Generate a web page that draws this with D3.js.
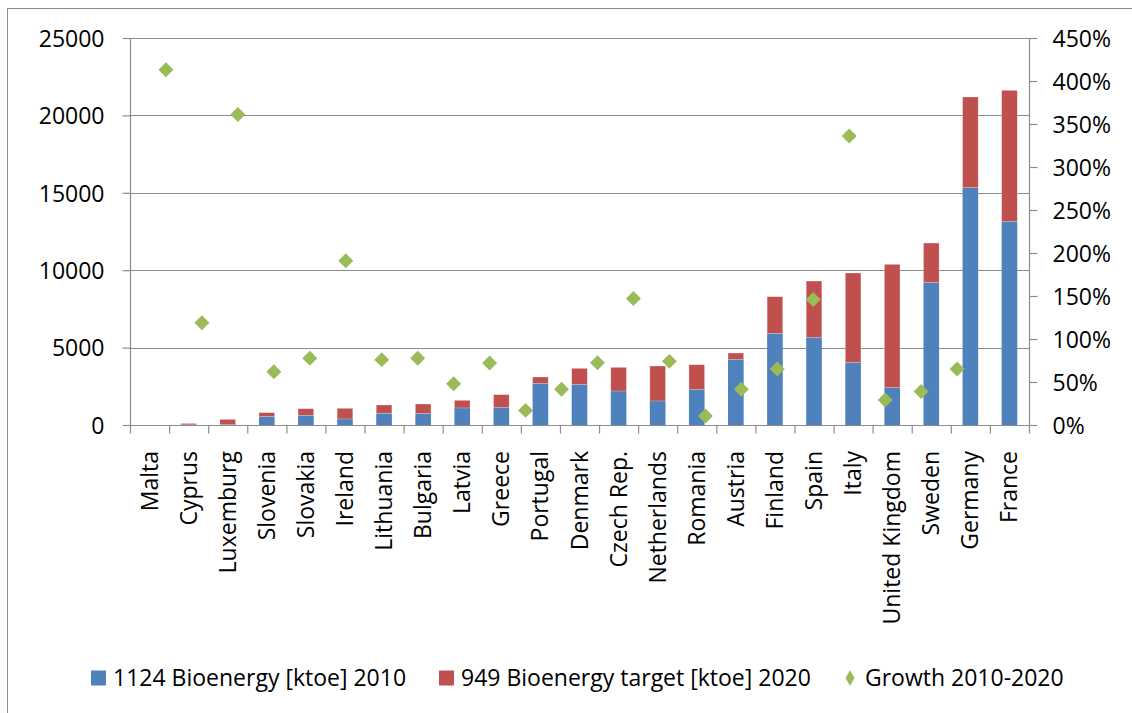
<!DOCTYPE html>
<html>
<head>
<meta charset="utf-8">
<script src="https://cdn.jsdelivr.net/npm/d3@7"></script>
<style>
    body { margin: 0; background: #fff; }
    text { font-family: "Open Sans", sans-serif; fill: #000; }
</style>
</head>
<body>
<div id="chart"></div>
<script>
const countries = ['Malta', 'Cyprus', 'Luxemburg', 'Slovenia', 'Slovakia', 'Ireland', 'Lithuania', 'Bulgaria',
    'Latvia', 'Greece', 'Portugal', 'Denmark', 'Czech Rep.', 'Netherlands', 'Romania', 'Austria', 'Finland',
    'Spain', 'Italy', 'United Kingdom', 'Sweden', 'Germany', 'France'];
const bio2010 = [0, 10, 20, 540, 625, 390, 755, 755, 1100, 1145, 2695, 2630, 2195, 1550, 2305, 4245, 5920,
    5665, 4025, 2410, 9195, 15330, 13160];
const target2020 = [0, 90, 345, 260, 430, 690, 540, 600, 495, 815, 405, 1030, 1530, 2260, 1590, 405, 2370,
    3635, 5795, 7970, 2560, 5860, 8460];
const growth = [4.13, 1.19, 3.61, 0.62, 0.775, 1.91, 0.76, 0.775, 0.48, 0.72, 0.17, 0.415, 0.725, 1.47, 0.74,
    0.105, 0.415, 0.65, 1.46, 3.36, 0.29, 0.39, 0.65];
const leftTicks = [0, 5000, 10000, 15000, 20000, 25000];
const rightTicks = [0, 0.5, 1, 1.5, 2, 2.5, 3, 3.5, 4, 4.5];
const seriesNames = ['1124 Bioenergy [ktoe] 2010', '949 Bioenergy target [ktoe] 2020', 'Growth 2010-2020'];

const BLUE = '#4f81bd', RED = '#c0504d', GREEN = '#9bbb59', GRID = '#8c8c8c';

const [width, height] = [1132, 713];
const plot = { left: 130, right: 1029, top: 38, bottom: 425 };

const svg = d3.select('#chart').append('svg')
    .attr('width', width)
    .attr('height', height);

// outer chart border
svg.append('rect')
    .attr('x', 7.5).attr('y', 8.5)
    .attr('width', 1140).attr('height', 720)
    .attr('fill', 'none')
    .attr('stroke', GRID);

const x = d3.scaleBand()
    .domain(countries)
    .range([plot.left, plot.right])
    .paddingInner(0.6)
    .paddingOuter(0.3);
// the growth points sit on a separate 0..25 value axis
const xs = d3.scaleLinear().domain([0, 25]).range([plot.left, plot.right]);
const y = d3.scaleLinear().domain([0, 25000]).range([plot.bottom, plot.top]);
const y2 = d3.scaleLinear().domain([0, 4.5]).range([plot.bottom, plot.top]);

// gridlines
svg.append('g').selectAll('line')
    .data(leftTicks.filter(d => d > 0))
    .join('line')
    .attr('x1', plot.left).attr('x2', plot.right)
    .attr('y1', d => Math.round(y(d)) + 0.5).attr('y2', d => Math.round(y(d)) + 0.5)
    .attr('stroke', GRID);

// bars
const stacked = countries.map((c, i) => ({ c, b: bio2010[i], r: target2020[i] }));
const bars = svg.append('g');
bars.selectAll('.b2010').data(stacked).join('rect')
    .attr('class', 'b2010')
    .attr('x', d => x(d.c)).attr('width', x.bandwidth())
    .attr('y', d => y(d.b)).attr('height', d => y(0) - y(d.b))
    .attr('fill', BLUE);
bars.selectAll('.b2020').data(stacked).join('rect')
    .attr('class', 'b2020')
    .attr('x', d => x(d.c)).attr('width', x.bandwidth())
    .attr('y', d => y(d.b + d.r)).attr('height', d => y(d.b) - y(d.b + d.r))
    .attr('fill', RED)
    .attr('stroke', '#fff').attr('stroke-opacity', 0.45).attr('stroke-width', 0.6);

// axes
const leftAxis = svg.append('g')
    .attr('transform', `translate(${plot.left + 0.5},0)`)
    .call(d3.axisLeft(y).tickValues(leftTicks).tickSize(8).tickPadding(18).tickFormat(d3.format('d')));
const rightAxis = svg.append('g')
    .attr('transform', `translate(${plot.right + 0.5},0)`)
    .call(d3.axisRight(y2).tickValues(rightTicks).tickSize(8).tickPadding(15).tickFormat(d3.format('.0%')));
const bottomAxis = svg.append('g')
    .attr('transform', `translate(0,${plot.bottom + 0.5})`)
    .call(d3.axisBottom(xs).tickValues(d3.range(0, 24).map(i => plot.left + i * x.step()).map(v => xs.invert(v)))
        .tickSize(8).tickFormat(''));

[leftAxis, rightAxis, bottomAxis].forEach(a => {
    a.select('.domain').attr('stroke', GRID).attr('stroke-width', 1.2);
    a.selectAll('.tick line').attr('stroke', GRID).attr('stroke-width', 1.2);
    a.selectAll('text').style('font-size', '23px').attr('dy', '0.36em');
});
bottomAxis.select('.domain').attr('d', `M${plot.left},0H${plot.right}`);
leftAxis.select('.domain').attr('d', `M0,${plot.top}V${plot.bottom}`);
rightAxis.select('.domain').attr('d', `M0,${plot.top}V${plot.bottom}`);

// category labels, rotated
svg.append('g').selectAll('text')
    .data(countries)
    .join('text')
    .attr('transform', d => `translate(${x(d) + x.bandwidth() / 2 + 8}, 451) rotate(-90)`)
    .style('text-anchor', 'end')
    .style('font-size', '23px')
    .text(d => d);

// growth points
const diamond = d3.symbol().type(d3.symbolSquare).size(112);
svg.append('g').selectAll('path')
    .data(growth)
    .join('path')
    .attr('d', diamond)
    .attr('transform', (d, i) => `translate(${xs(i + 1)}, ${y2(d)}) rotate(45)`)
    .attr('fill', GREEN);

// legend
const legend = svg.append('g').attr('transform', 'translate(0, 678)');
const legendItems = [
    { name: seriesNames[0], color: BLUE, x: 91, shape: 'rect' },
    { name: seriesNames[1], color: RED, x: 439, shape: 'rect' },
    { name: seriesNames[2], color: GREEN, x: 843, shape: 'diamond' },
];
legendItems.forEach(d => {
    if (d.shape === 'rect') {
        legend.append('rect')
            .attr('x', d.x).attr('y', -7.5).attr('width', 15).attr('height', 15)
            .attr('fill', d.color);
    } else {
        legend.append('path')
            .attr('d', d3.symbol().type(d3.symbolDiamond).size(70))
            .attr('transform', `translate(${d.x + 7}, 0)`)
            .attr('fill', d.color);
    }
    legend.append('text')
        .attr('x', d.x + (d.shape === 'rect' ? 22 : 22))
        .attr('dy', '0.36em')
        .style('font-size', '23px')
        .text(d.name);
});
</script>
</body>
</html>
